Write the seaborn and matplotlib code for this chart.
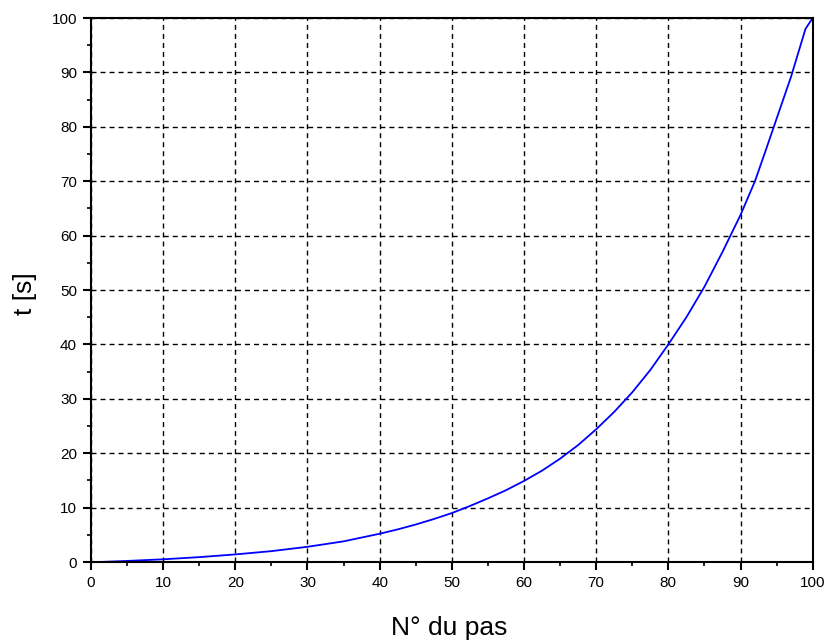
import numpy as np
import pandas as pd
import matplotlib
matplotlib.use("Agg")
import matplotlib.pyplot as plt
from matplotlib.ticker import MultipleLocator
import seaborn as sns

# values
pas = [1, 5, 10, 15, 20, 25, 30, 35, 40, 42.5, 45, 47.5, 50, 52.5, 55, 57.5, 60, 62.5, 65,
       67.5, 70, 72.5, 75, 77.5, 80, 82.5, 85, 87.5, 90, 92, 93.5, 95, 97, 99, 100]
temps = [0, 0.2, 0.5, 0.9, 1.4, 2.0, 2.8, 3.8, 5.2, 6.0, 6.9, 7.9, 9.0, 10.3, 11.7, 13.2, 14.9,
         16.8, 19.0, 21.5, 24.4, 27.6, 31.2, 35.3, 40.0, 45.0, 50.6, 57.0, 63.8, 70.0, 75.7,
         81.5, 89.2, 98.0, 100.0]

df = pd.DataFrame({"pas": pas, "t": temps})

sns.set_style("ticks")
plt.rcParams['font.family'] = ['Liberation Sans', 'DejaVu Sans']
plt.rcParams['text.color'] = 'black'
plt.rcParams['axes.labelcolor'] = 'black'

fig = plt.figure(figsize=(8.27, 6.41), dpi=100)
ax = fig.add_axes([0.110, 0.1232, 0.8727, 0.8487])

sns.lineplot(data=df, x="pas", y="t", color=(0, 0, 1), linewidth=1.3, ax=ax)

ax.set_xlim(0, 100)
ax.set_ylim(0, 100)
ax.xaxis.set_major_locator(MultipleLocator(10))
ax.yaxis.set_major_locator(MultipleLocator(10))
ax.xaxis.set_minor_locator(MultipleLocator(5))
ax.yaxis.set_minor_locator(MultipleLocator(5))

ax.grid(True, which="major", color="black", linestyle=(0, (3.6, 2.9)), linewidth=1.0)
ax.set_axisbelow(True)

for s in ax.spines.values():
    s.set_color("black")
    s.set_linewidth(1.5)

ax.tick_params(which="major", direction="out", length=6, width=1.5, labelsize=11, pad=4,
               colors="black", labelcolor="black")
ax.tick_params(which="minor", direction="out", length=3, width=1.2, colors="black")

ax.set_xlabel("N° du pas", fontsize=19)
ax.set_ylabel("t [s]", fontsize=19)
ax.xaxis.set_label_coords(0.497, -0.121)
ax.yaxis.set_label_coords(-0.091, 0.494)
ax.xaxis.label.set_va("center")
ax.yaxis.label.set_va("center")

fig.savefig("out.png", dpi=100)
